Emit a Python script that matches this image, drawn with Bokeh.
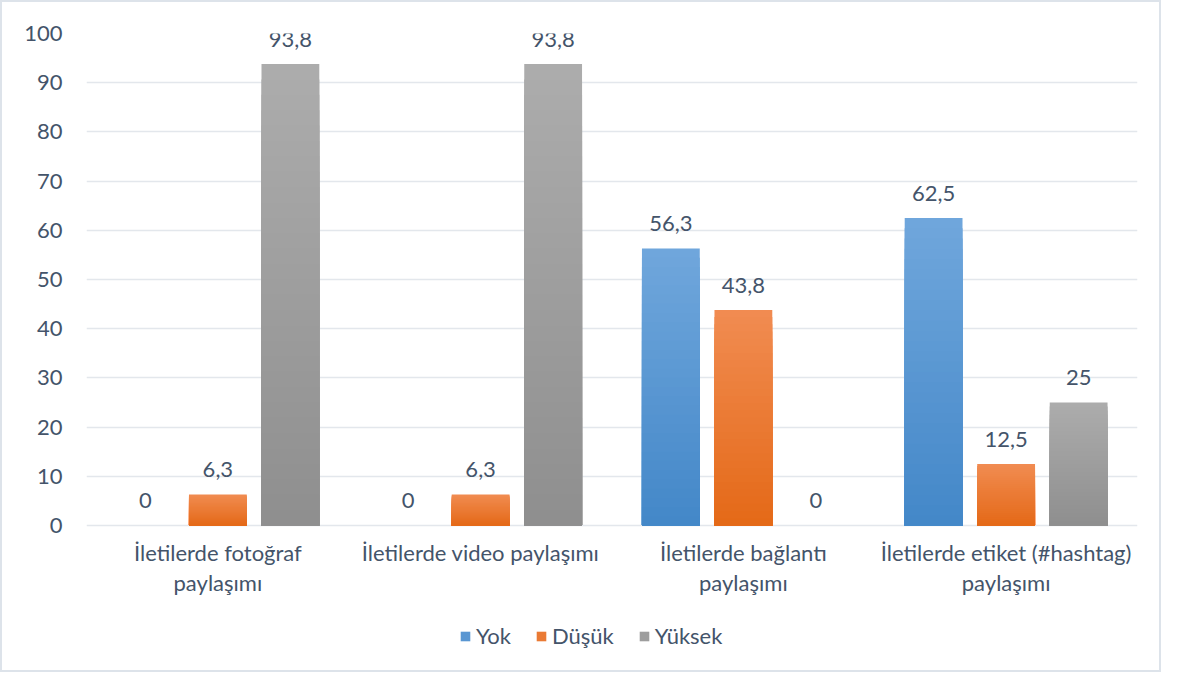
from bokeh.plotting import figure
from bokeh.models import ColumnDataSource, FactorRange, Legend, LegendItem, Range1d, FixedTicker
from bokeh.transform import dodge
from bokeh.core.properties import value
from bokeh.embed import file_html
from bokeh.resources import INLINE

categories = ["İletilerde fotoğraf paylaşımı", "İletilerde video paylaşımı",
              "İletilerde bağlantı paylaşımı", "İletilerde etiket (#hashtag) paylaşımı"]
cat_labels = ["İletilerde fotoğraf\npaylaşımı", "İletilerde video paylaşımı",
              "İletilerde bağlantı\npaylaşımı", "İletilerde etiket (#hashtag)\npaylaşımı"]
series_names = ["Yok", "Düşük", "Yüksek"]
yok = [0, 0, 56.3, 62.5]
dusuk = [6.3, 6.3, 43.8, 12.5]
yuksek = [93.8, 93.8, 0, 25]
# gradient colours per series: (top, bottom)
grad = [((0x70, 0xa7, 0xdc), (0x43, 0x87, 0xc8)),
        ((0xf1, 0x8c, 0x52), (0xe4, 0x69, 0x17)),
        ((0xad, 0xad, 0xad), (0x8e, 0x8e, 0x8e))]
y_ticks = [0, 10, 20, 30, 40, 50, 60, 70, 80, 90, 100]

FONT = "Lato"
TXT = "#44546a"
FS = "22px"
NSLICE = 30

def fmt(v):
    s = ("%.1f" % v).rstrip("0").rstrip(".")
    return s.replace(".", ",")

def mix(top, bot, t):
    # t = 0 at bottom, 1 at top
    return "#%02x%02x%02x" % tuple(int(round(b + (a - b) * t)) for a, b in zip(top, bot))

p = figure(width=1161, height=672, x_range=FactorRange(*categories), y_range=Range1d(-29.5, 100),
           output_backend="svg", toolbar_location=None,
           min_border_left=84, min_border_right=26, min_border_top=31, min_border_bottom=4)
p.styles = {"border": "2px solid #dde3ea"}

data = dict(cat=categories, lab=cat_labels, zero=[0] * len(categories),
            yok=yok, dusuk=dusuk, yuksek=yuksek,
            yok_l=[fmt(v) for v in yok], dusuk_l=[fmt(v) for v in dusuk], yuksek_l=[fmt(v) for v in yuksek])
src = ColumnDataSource(data)

offsets = [-0.276, 0.0, 0.276]
fields = ["yok", "dusuk", "yuksek"]
series_vals = [yok, dusuk, yuksek]
legend_renderers = []
for f, vals, off, (ctop, cbot) in zip(fields, series_vals, offsets, grad):
    # overlapping layers from full height down, each lower one darker -> vertical gradient
    for k in range(NSLICE):
        frac = (NSLICE - k) / NSLICE
        s = ColumnDataSource(dict(cat=categories, t=[v * frac for v in vals]))
        r = p.vbar(x=dodge("cat", off, range=p.x_range), top="t", width=0.22, source=s,
                   fill_color=mix(ctop, cbot, frac - 0.5 / NSLICE), line_color=None)
        if k == NSLICE // 2:
            legend_renderers.append(r)
    p.text(x=dodge("cat", off, range=p.x_range), y=f, text=f + "_l", source=src,
           text_align="center", text_baseline="bottom", y_offset=-17,
           text_font=value(FONT), text_font_size=FS, text_color=TXT)

# category labels under the baseline
p.text(x="cat", y="zero", text="lab", source=src, text_align="center", text_baseline="top",
       y_offset=14, text_font=value(FONT), text_font_size=FS, text_color=TXT,
       text_line_height=1.1)

legend = Legend(items=[LegendItem(label=n, renderers=[r]) for n, r in zip(series_names, legend_renderers)],
                orientation="horizontal", location=(373, 21), glyph_width=12, glyph_height=12,
                label_standoff=5, spacing=24, padding=0, margin=0, border_line_color=None,
                background_fill_alpha=0, label_text_font=FONT, label_text_font_size=FS,
                label_text_color=TXT)
p.add_layout(legend, "center")

p.outline_line_color = None
p.background_fill_color = "white"
p.xaxis.visible = False
p.xgrid.grid_line_color = None
p.ygrid.ticker = FixedTicker(ticks=y_ticks)
p.ygrid.grid_line_color = "#e3e7ec"
p.ygrid.grid_line_width = 1.5
p.yaxis.ticker = FixedTicker(ticks=y_ticks)
p.yaxis.axis_line_color = None
p.yaxis.major_tick_line_color = None
p.yaxis.minor_tick_line_color = None
p.yaxis.major_label_standoff = 18
p.yaxis.major_label_text_font = FONT
p.yaxis.major_label_text_font_size = FS
p.yaxis.major_label_text_color = TXT

open("out.html", "w").write(file_html(p, INLINE))
